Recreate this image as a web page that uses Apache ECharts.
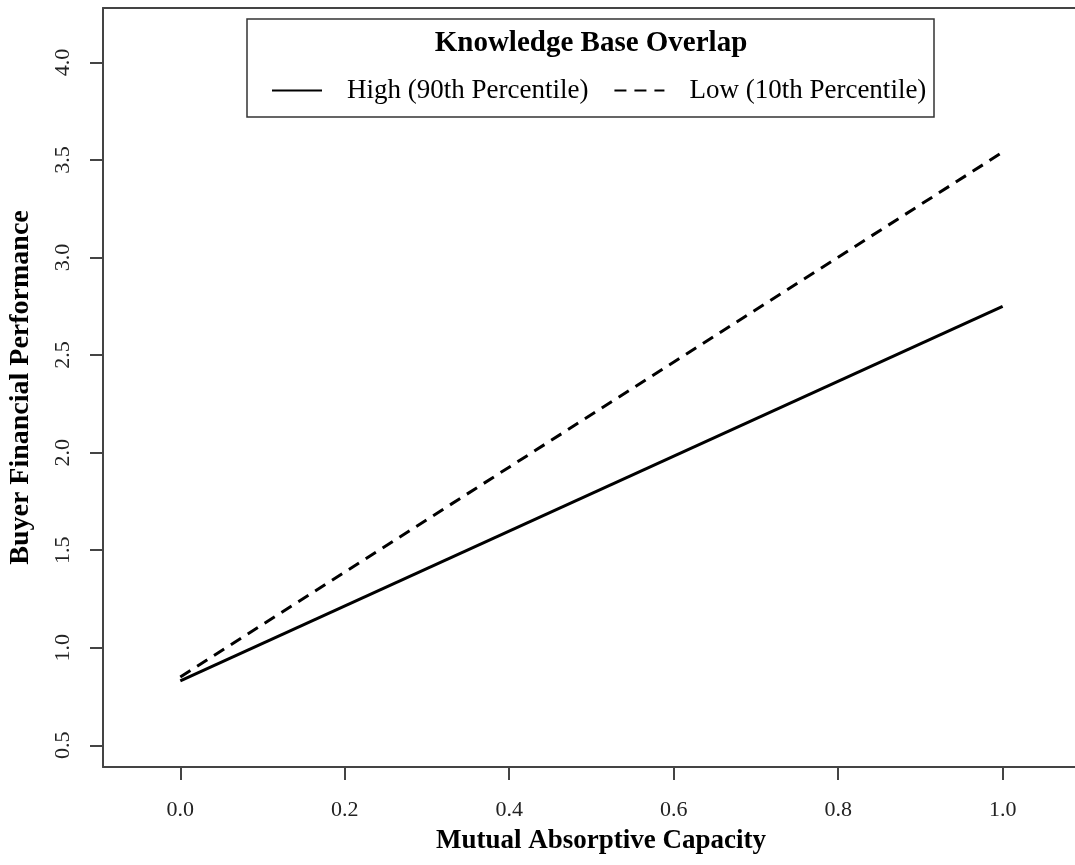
<!DOCTYPE html>
<html>
<head>
<meta charset="utf-8">
<script src="https://cdn.jsdelivr.net/npm/echarts@6/dist/echarts.min.js"></script>
<style>
  html, body { margin: 0; padding: 0; background: #fff; }
</style>
</head>
<body>
<div id="main" style="width: 1075px; height: 865px"></div>
<script>
// mutual absorptive capacity (x) and predicted performance
var capacity = [0.0, 1.0];
var highOverlap = [0.83, 2.75]; // 90th percentile
var lowOverlap = [0.85, 3.54];  // 10th percentile
var xTicks = [0.0, 0.2, 0.4, 0.6, 0.8, 1.0];
var yTicks = [0.5, 1.0, 1.5, 2.0, 2.5, 3.0, 3.5, 4.0];

var font = "Liberation Serif";
var axisColor = "#444";

function pairs(xs, ys) {
  var out = [];
  for (var i = 0; i < xs.length; i++) {
    out.push([xs[i], ys[i]]);
  }
  return out;
}

var myChart = echarts.init(document.getElementById("main"));
var option = {
  backgroundColor: "#fff",
  animation: false,
  grid: { left: 103, top: 8, right: 0, bottom: 98, outerBoundsMode: "none", containLabel: false },
  graphic: [
    {
      type: "rect",
      shape: { x: 247, y: 19, width: 687, height: 98 },
      style: { fill: "#fff", stroke: "#333", lineWidth: 1.5 },
      z: 10
    },
    {
      type: "text",
      x: 591,
      y: 44,
      style: {
        text: "Knowledge Base Overlap",
        font: "bold 29px '" + font + "'",
        fill: "#000",
        align: "center",
        verticalAlign: "middle"
      },
      z: 11
    }
  ],
  legend: {
    left: 266,
    top: 72,
    z: 12,
    itemWidth: 50,
    itemHeight: 14,
    itemGap: 25,
    itemStyle: { opacity: 0 },
    textStyle: { fontFamily: font, fontSize: 27, color: "#000", padding: [0, 0, 0, 20] },
    data: ["High (90th Percentile)", "Low (10th Percentile)"]
  },
  xAxis: [
    {
      type: "value",
      min: -0.094,
      max: 1.088,
      name: "Mutual Absorptive Capacity",
      nameLocation: "middle",
      nameGap: 61,
      nameTextStyle: { fontFamily: font, fontSize: 27, fontWeight: "bold", color: "#000", padding: [0, 0, 0, 24] },
      axisLine: { show: true, onZero: false, lineStyle: { color: axisColor, width: 2 } },
      axisTick: { show: true, inside: false, length: 13, customValues: xTicks, lineStyle: { color: axisColor, width: 2 } },
      axisLabel: {
        customValues: xTicks,
        margin: 32,
        fontFamily: font,
        fontSize: 22,
        color: "#222",
        formatter: function (v) { return v.toFixed(1); }
      },
      splitLine: { show: false }
    },
    {
      type: "value",
      position: "top",
      min: -0.094,
      max: 1.088,
      axisLine: { show: true, onZero: false, lineStyle: { color: axisColor, width: 2 } },
      axisTick: { show: false },
      axisLabel: { show: false },
      splitLine: { show: false }
    }
  ],
  yAxis: {
    type: "value",
    min: 0.389,
    max: 4.279,
    name: "Buyer Financial Performance",
    nameLocation: "middle",
    nameGap: 68,
    nameRotate: 90,
    nameTextStyle: { fontFamily: font, fontSize: 28, fontWeight: "bold", color: "#000" },
    axisLine: { show: true, onZero: false, lineStyle: { color: axisColor, width: 2 } },
    axisTick: { show: true, inside: false, length: 13, customValues: yTicks, lineStyle: { color: axisColor, width: 2 } },
    axisLabel: {
      customValues: yTicks,
      rotate: 90,
      margin: 29,
      fontFamily: font,
      fontSize: 22,
      color: "#222",
      formatter: function (v) { return v.toFixed(1); }
    },
    splitLine: { show: false }
  },
  series: [
    {
      name: "High (90th Percentile)",
      type: "line",
      data: pairs(capacity, highOverlap),
      symbol: "none",
      color: "#000",
      lineStyle: { color: "#000", width: 3, type: "solid" }
    },
    {
      name: "Low (10th Percentile)",
      type: "line",
      data: pairs(capacity, lowOverlap),
      symbol: "none",
      color: "#000",
      lineStyle: { color: "#000", width: 3, type: [12, 8] }
    }
  ]
};
myChart.setOption(option);
</script>
</body>
</html>
